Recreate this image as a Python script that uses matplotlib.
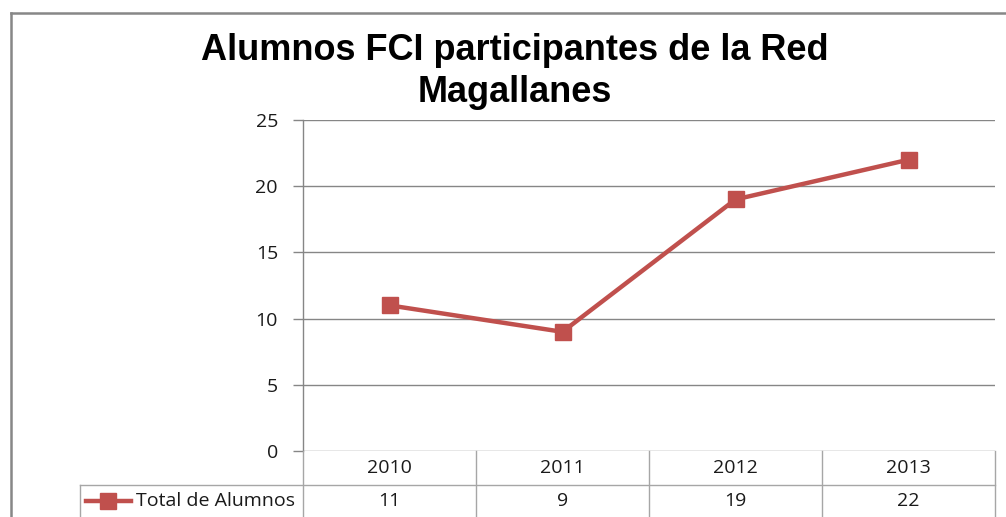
import matplotlib
matplotlib.use("Agg")
import matplotlib.pyplot as plt
from matplotlib.lines import Line2D

# Data
years = ["2010", "2011", "2012", "2013"]
total_alumnos = [11, 9, 19, 22]
series_name = "Total de Alumnos"
title_lines = ["Alumnos FCI participantes de la Red", "Magallanes"]
yticks = [0, 5, 10, 15, 20, 25]

W, H = 1006, 517
fig = plt.figure(figsize=(W / 100, H / 100), dpi=100)
fig.patch.set_facecolor("white")

def fx(px):
    return px / W

def fy(py):
    return 1 - py / H

# axes in pixel coordinates
L, R, T, B = 303, 995, 120, 451
ax = fig.add_axes([fx(L), fy(B), fx(R) - fx(L), fy(T) - fy(B)])

RED = "#C0504D"
GRID = "#868686"
TABLE = "#A6A6A6"
TXT_FONT = "Open Sans"
FS = 14
TXT_COLOR = "#1a1a1a"

x = list(range(len(years)))
ax.plot(x, total_alumnos, color=RED, lw=3.2, marker="s", ms=12,
        markerfacecolor=RED, markeredgecolor=RED, zorder=3)
ax.set_xlim(-0.5, len(years) - 0.5)
ax.set_ylim(0, 25)
ax.set_yticks(yticks)
ax.set_yticklabels([str(v) for v in yticks], fontsize=FS, family=TXT_FONT, color=TXT_COLOR)
ax.set_xticks([])
for v in yticks:
    ax.axhline(v, color=GRID, lw=1.0, zorder=1)
for s in ["top", "right", "bottom"]:
    ax.spines[s].set_visible(False)
ax.spines["left"].set_color(GRID)
ax.spines["left"].set_linewidth(1.0)
ax.tick_params(axis="y", length=7, color=GRID, pad=11, width=1.0)

# Title
fig.text(fx(515), fy(51), title_lines[0], ha="center", va="center", fontsize=26,
         fontweight="bold", family="Liberation Sans")
fig.text(fx(515), fy(92), title_lines[1], ha="center", va="center", fontsize=26,
         fontweight="bold", family="Liberation Sans")

# Outer border (left/top visible)
fig.add_artist(Line2D([fx(11), fx(11)], [fy(13), fy(530)], color="#878787", lw=1.8,
                      transform=fig.transFigure))
fig.add_artist(Line2D([fx(11), fx(1020)], [fy(13), fy(13)], color="#878787", lw=1.8,
                      transform=fig.transFigure))

# Data table
col_edges = [L + i * (R - L) / len(years) for i in range(len(years) + 1)]
row_top, row_mid, row_bot = B, 485, 530

def hline(y, x0, x1):
    fig.add_artist(Line2D([fx(x0), fx(x1)], [fy(y), fy(y)], color=TABLE, lw=1.0,
                          transform=fig.transFigure))

def vline(xp, y0, y1):
    fig.add_artist(Line2D([fx(xp), fx(xp)], [fy(y0), fy(y1)], color=TABLE, lw=1.0,
                          transform=fig.transFigure))

hline(row_mid, 80, R)
for xe in col_edges:
    vline(xe, row_top, row_bot)
vline(80, row_mid, row_bot)

for i, yr in enumerate(years):
    cx = (col_edges[i] + col_edges[i + 1]) / 2
    fig.text(fx(cx), fy(468), yr, ha="center", va="center", fontsize=FS, family=TXT_FONT,
             color=TXT_COLOR)
    fig.text(fx(cx), fy(501), str(total_alumnos[i]), ha="center", va="center",
             fontsize=FS, family=TXT_FONT, color=TXT_COLOR)

# legend key in table
fig.add_artist(Line2D([fx(86), fx(131)], [fy(501), fy(501)], color=RED, lw=3.2,
                      transform=fig.transFigure))
fig.add_artist(Line2D([fx(108)], [fy(501)], color=RED, marker="s", ms=11.5,
                      transform=fig.transFigure))
fig.text(fx(136), fy(501), series_name, ha="left", va="center", fontsize=FS,
         family=TXT_FONT, color=TXT_COLOR)

fig.savefig("out.png", dpi=100)
